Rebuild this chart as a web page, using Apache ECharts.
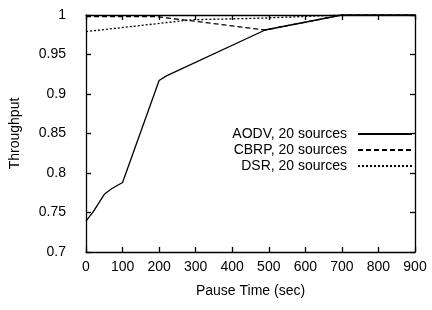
<!DOCTYPE html>
<html>
<head>
<meta charset="utf-8">
<script src="https://cdn.jsdelivr.net/npm/echarts@6/dist/echarts.min.js"></script>
<style>
  html, body { margin: 0; padding: 0; background: #fff; }
  #chart { width: 432px; height: 310px; }
</style>
</head>
<body>
<div id="chart"></div>
<script>
// pause time (sec) / throughput
const aodvX = [0, 20, 50, 70, 100, 200, 220, 490, 700, 900]
const aodvY = [0.739, 0.751, 0.773, 0.780, 0.788, 0.917, 0.923, 0.981, 1.0, 1.0]
const cbrpX = [0, 190, 300, 490, 700, 900]
const cbrpY = [0.998, 0.998, 0.992, 0.981, 1.0, 1.0]
const dsrX = [0, 290, 480, 700, 900]
const dsrY = [0.979, 0.994, 0.996, 1.0, 1.0]
const seriesNames = ['AODV, 20 sources', 'CBRP, 20 sources', 'DSR, 20 sources']

const pairs = (xs, ys) => xs.map((x, i) => [x, ys[i]])

const font = 'Liberation Sans, Arial, sans-serif'
const fontSize = 14
const frameAxis = {
  axisLine: { show: true, onZero: false, lineStyle: { color: '#000', width: 1.3 } },
  axisTick: { show: true, inside: true, length: 5, lineStyle: { color: '#000', width: 1.3 } },
  splitLine: { show: false }
}

const lineSeries = (name, data, type) => ({
  name,
  type: 'line',
  data,
  symbol: 'none',
  lineStyle: { color: '#000', width: 1.3, type },
  itemStyle: { color: '#000' }
})

const chart = echarts.init(document.getElementById('chart'))
chart.setOption({
  backgroundColor: '#fff',
  animation: false,
  grid: { left: 86, right: 17, top: 15, bottom: 58 },
  legend: {
    orient: 'vertical',
    align: 'right',
    right: 14,
    top: 122,
    itemWidth: 54,
    itemHeight: 14,
    itemGap: 2,
    data: seriesNames,
    itemStyle: { opacity: 0 },
    textStyle: { fontFamily: font, fontSize: fontSize, color: '#000', padding: [0, 6, 0, 0] }
  },
  xAxis: [
    Object.assign({
      type: 'value', min: 0, max: 900, interval: 100,
      name: 'Pause Time (sec)', nameLocation: 'middle', nameGap: 32,
      nameTextStyle: { fontFamily: font, fontSize: fontSize, color: '#000' },
      axisLabel: { fontFamily: font, fontSize: fontSize, color: '#000', margin: 8 }
    }, frameAxis),
    Object.assign({
      type: 'value', min: 0, max: 900, interval: 100, position: 'top',
      axisLabel: { show: false }
    }, frameAxis)
  ],
  yAxis: [
    Object.assign({
      type: 'value', min: 0.7, max: 1, interval: 0.05,
      name: 'Throughput', nameLocation: 'middle', nameGap: 64,
      nameTextStyle: { fontFamily: font, fontSize: fontSize, color: '#000' },
      axisLabel: { fontFamily: font, fontSize: fontSize, color: '#000', margin: 20 }
    }, frameAxis),
    Object.assign({
      type: 'value', min: 0.7, max: 1, interval: 0.05, position: 'right',
      axisLabel: { show: false }
    }, frameAxis)
  ],
  series: [
    lineSeries(seriesNames[0], pairs(aodvX, aodvY), 'solid'),
    lineSeries(seriesNames[1], pairs(cbrpX, cbrpY), [5, 3]),
    lineSeries(seriesNames[2], pairs(dsrX, dsrY), [2, 2])
  ]
})
</script>
</body>
</html>
